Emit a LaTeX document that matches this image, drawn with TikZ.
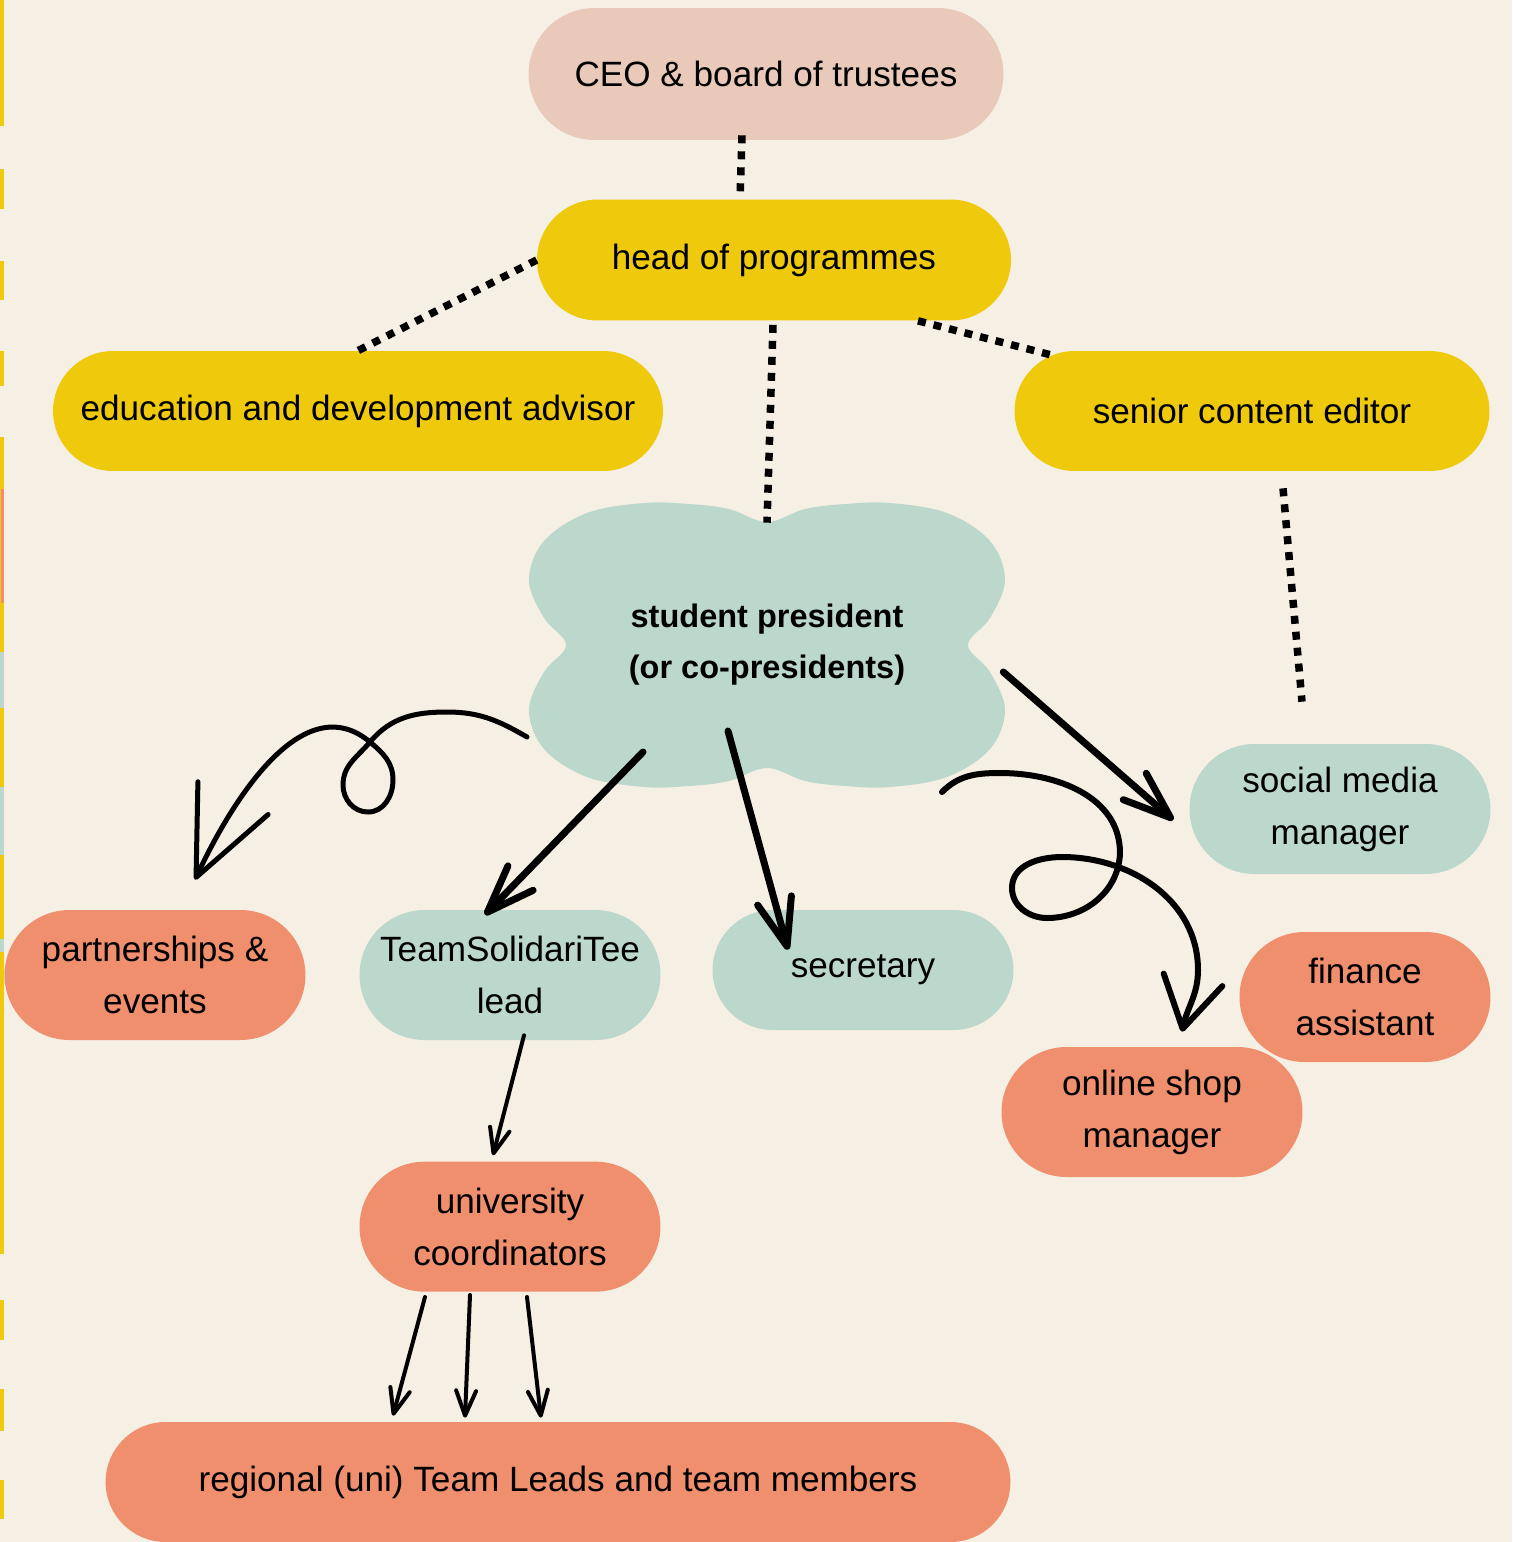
\documentclass[tikz,border=0pt]{standalone}
\usepackage{fontspec}
\setmainfont{Liberation Sans}
\usetikzlibrary{positioning, calc, arrows.meta}

\definecolor{bgcream}{HTML}{F6F0E4}
\definecolor{ceopink}{HTML}{E8C9BA}
\definecolor{gold}{HTML}{EFC90C}
\definecolor{mint}{HTML}{BCD8CD}
\definecolor{salmon}{HTML}{EF8F6E}

\tikzset{
	pill/.style={rectangle, rounded corners=#1, minimum height=2*#1, minimum width=6.02cm, align=center, inner sep=0pt, font=\fontsize{20}{29.5}\selectfont},
	pill/.default=1.3cm,
	dots/.style={line width=0.15cm, dash pattern=on 0.16cm off 0.16cm},
	bigarrow/.style={line width=0.14cm, line cap=round, -{Straight Barb[length=0.95cm, width=0.7cm, round]}},
	curly/.style={line width=0.11cm, line cap=round, line join=round},
	thinarrow/.style={line width=0.08cm, line cap=round, -{Straight Barb[length=0.5cm, width=0.4cm, round]}},
}

\begin{document}
\begin{tikzpicture}[x=0.02cm, y=-0.02cm]
		
		\useasboundingbox (0,0) rectangle (1512,1542);
		\fill[bgcream] (0,0) rectangle (1512,1542);
		
		% strip on the left edge
		\foreach \ya/\yb in {0/126, 169/209, 261/300, 351/386, 437/1254, 1300/1340, 1389/1431, 1480/1519}
			\fill[gold] (0,\ya) rectangle (4,\yb);
		\fill[salmon] (1,489) rectangle (4,603);
		\fill[mint] (0,652) rectangle (4,708);
		\fill[mint] (0,787) rectangle (4,855);
		\fill[mint] (0,939) rectangle (4,952);
		
		\node[pill=1.32cm, fill=ceopink, minimum width=9.5cm] (ceo) at (766,74) {CEO \& board of trustees};
		\node[pill=1.21cm, fill=gold, minimum width=9.48cm] (head) at (774,260) {head of programmes};
		\node[pill=1.2cm, fill=gold, minimum width=12.2cm] (edu) at (358,411) {education and development advisor};
		\node[pill=1.2cm, fill=gold, minimum width=9.5cm] (senior) at (1252,411) {senior content editor};
		
		% the cloud
		\fill[mint] plot[smooth cycle, tension=0.6] coordinates {(767,522) (805,509) (845,504) (890,503) (947,513) (990,541) (1005,580) (990,618) (968,645) (990,672) (1005,710) (990,749) (947,777) (890,787) (845,786) (805,781) (767,768) (729,781) (689,786) (644,787) (587,777) (544,749) (529,710) (544,672) (566,645) (544,618) (529,580) (544,541) (587,513) (644,503) (689,504) (729,509)};
		\node[align=center, minimum width=9.52cm, minimum height=4.88cm, font=\fontsize{18.5}{29}\selectfont\bfseries] (pres) at (767,645) {student president\\(or co-presidents)};
		
		\node[pill, fill=mint] (social) at (1340,809) {social media\\manager};
		\node[pill, fill=salmon] (partner) at (155,975) {partnerships \&\\events};
		\node[pill, fill=mint] (team) at (510,975) {TeamSolidariTee\\lead};
		\node[pill=1.2cm, fill=mint] (secretary) at (863,970) {secretary};
		\node[pill, fill=salmon, minimum width=5.02cm] (finance) at (1365,997) {finance\\assistant};
		\node[pill, fill=salmon] (shop) at (1152,1112) {online shop\\manager};
		\node[pill, fill=salmon, below=2.42cm of team] (uni) {university\\coordinators};
		\node[pill=1.2cm, fill=salmon, minimum width=18.1cm] (regional) at (558,1482) {regional (uni) Team Leads and team members};
		
		\draw[dots] ($(ceo.south)+(-24,-5)$) -- ($(head.north)+(-34,0)$);
		\draw[dots] (head.west) -- (edu.north);
		\draw[dots] ($(head.south)+(144,0)$) -- ($(senior.north)+(-202,4)$);
		\draw[dots] ($(head.south)+(-1,4)$) -- (pres.north);
		\draw[dots] ($(senior.south)+(31,17)$) -- ($(social.north)+(-38,-42)$);
		
		\draw[bigarrow] ($(pres.east)+(-2,27)$) -- ($(social.west)+(-16,11)$);
		\draw[bigarrow] ($(pres.center)+(-124,107)$) -- ($(team.north)+(-25,5)$);
		\draw[bigarrow] ($(pres.center)+(-39,86)$) -- ($(secretary.north)+(-75,40)$);
		
		\coordinate (lstart) at ($(pres.center)+(-240,92)$);
		\coordinate (lend) at ($(partner.north)+(40,-30)$);
		\draw[curly, line width=0.1cm, -{Straight Barb[length=1.75cm, width=1.55cm, round]}] (lstart) to[out=150, in=0] (447,712) to[out=180, in=50] (370,742) to[out=230, in=90] (343,785) to[out=270, in=180] (368,812) to[out=0, in=270] (393,780) to[out=90, in=320] (370,742) to[out=140, in=65] (lend);
		
		\coordinate (rstart) at ($(pres.center)+(175,147)$);
		\coordinate (rend) at ($(shop.north)+(30,-15)$);
		\draw[curly, line width=0.12cm, -{Straight Barb[length=1cm, width=1.2cm, round]}] (rstart) to[out=45, in=180] (1000,773) to[out=0, in=90] (1120,853) to[out=268, in=0] (1047,918) to[out=180, in=270] (1012,888) to[out=90, in=180] (1062,857) to[out=0, in=90] (1198,970) to[out=270, in=78] (rend);
		
		\draw[thinarrow] ($(team.south)+(14,-5)$) -- ($(uni.north)+(-17,-6)$);
		\draw[thinarrow] ($(uni.south)+(-85,5)$) -- ($(regional.north)+(-165,-6)$);
		\draw[thinarrow] ($(uni.south)+(-40,3)$) -- ($(regional.north)+(-93,-4)$);
		\draw[thinarrow] ($(uni.south)+(17,5)$) -- ($(regional.north)+(-17,-4)$);
		
	\end{tikzpicture}
\end{document}
